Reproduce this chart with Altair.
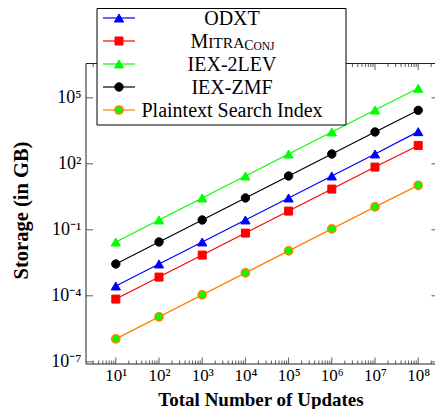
import altair as alt
import pandas as pd

# ---------------- data ----------------
updates = [1e1, 1e2, 1e3, 1e4, 1e5, 1e6, 1e7, 1e8]
odxt = [2.8e-4, 2.8e-3, 2.8e-2, 0.28, 2.8, 28, 280, 2900]
mitra = [7.1e-5, 7.1e-4, 7.1e-3, 7.1e-2, 0.71, 7.1, 71, 680]
iex_2lev = [0.028, 0.28, 2.8, 28, 280, 2800, 28000, 270000]
iex_zmf = [2.8e-3, 2.8e-2, 0.28, 2.8, 28, 280, 2800, 27000]
plaintext = [1.1e-6, 1.1e-5, 1.1e-4, 1.1e-3, 1.1e-2, 0.11, 1.1, 10.5]

series_names = ["ODXT", "MITRA_CONJ", "IEX-2LEV", "IEX-ZMF", "Plaintext Search Index"]
series_values = [odxt, mitra, iex_2lev, iex_zmf, plaintext]

x_major_ticks = updates
y_major_ticks = [1e-7, 1e-4, 1e-1, 1e2, 1e5]

# ---------------- layout / styles ----------------
FONT = "Liberation Serif"
W, H = 349, 300.5
PX_PER_DEC = 43.2
X_LO = 10 ** 0.31
X_HI = 10 ** (0.31 + W / PX_PER_DEC)
x_minor_ticks = [m * 10 ** k for k in range(0, 9) for m in range(2, 10)
                 if X_LO <= m * 10 ** k <= X_HI]

line_colors = ["#0000ff", "#ff0000", "#00ff00", "#000000", "#ff8000"]
fill_colors = ["#0000ff", "#ff0000", "#00ff00", "#000000", "#00ff00"]
shapes = ["triangle-up", "square", "triangle-up", "circle", "circle"]
sizes = [85, 64, 85, 70, 66]
stroke_w = [1, 1, 1, 1, 1.6]

xscale = alt.Scale(type="log", domain=[X_LO, X_HI], nice=False)
yscale = alt.Scale(type="log", domain=[10 ** -7.1, 10 ** 6.56], nice=False)

sup = ("'10' + (round(log(datum.value)/LN10) < 0 ? '\u207b' : '') + "
       "['\u2070','\u00b9','\u00b2','\u00b3','\u2074','\u2075','\u2076','\u2077','\u2078','\u2079']"
       "[abs(round(log(datum.value)/LN10))]")

x_axis = alt.Axis(values=x_major_ticks, labelExpr=sup, ticks=False, domain=False, grid=False,
                  labelFont=FONT, labelFontSize=17, labelColor="black", labelPadding=3,
                  labelFlush=False, labelOverlap=False,
                  titleFont=FONT, titleFontSize=19, titleFontWeight="bold", titleColor="black",
                  titleBaseline="alphabetic", titleY=41)
y_axis = alt.Axis(values=y_major_ticks, labelExpr=sup, ticks=False, domain=False, grid=False,
                  labelFont=FONT, labelFontSize=18, labelColor="black", labelPadding=5,
                  labelFlush=False, labelOverlap=False,
                  titleFont=FONT, titleFontSize=20.5, titleFontWeight="bold", titleColor="black",
                  titleBaseline="alphabetic", titleAngle=270, titleX=-59, titleY=146.5)

XT = "Total Number of Updates"
YT = "Storage (in GB)"


def X():
    return alt.X("x:Q", scale=xscale, axis=x_axis, title=XT)


def Y():
    return alt.Y("y:Q", scale=yscale, axis=y_axis, title=YT)


layers = []
for name, vals, lc, fc, sh, sz, sw in zip(series_names, series_values, line_colors,
                                          fill_colors, shapes, sizes, stroke_w):
    df = pd.DataFrame({"x": updates, "y": vals})
    base = alt.Chart(df)
    layers.append(base.mark_line(color=lc, strokeWidth=1.2).encode(x=X(), y=Y()))
    layers.append(base.mark_point(shape=sh, filled=True, fill=fc, stroke=lc, strokeWidth=sw,
                                  size=sz, opacity=1).encode(x=X(), y=Y()))

# ---- frame (left, top, bottom; the right edge lies outside the picture) ----
one = alt.Chart(pd.DataFrame({"a": [0]}))
frame_col = "#222222"
layers.append(one.mark_rule(color=frame_col, strokeWidth=1).encode(
    x=alt.value(0), y=alt.value(0), y2=alt.value(H)))
layers.append(one.mark_rule(color=frame_col, strokeWidth=1).encode(
    x=alt.value(0), x2=alt.value(W), y=alt.value(0)))
layers.append(one.mark_rule(color=frame_col, strokeWidth=1).encode(
    x=alt.value(0), x2=alt.value(W), y=alt.value(H)))

# ---- axis ticks (inward, mirrored like pgfplots) ----
tick_col = "#333333"
xmaj = alt.Chart(pd.DataFrame({"x": x_major_ticks}))
xmin = alt.Chart(pd.DataFrame({"x": x_minor_ticks}))
ymaj = alt.Chart(pd.DataFrame({"y": y_major_ticks}))
for c, L in ((xmaj, 6.5), (xmin, 3.5)):
    layers.append(c.mark_rule(color=tick_col, strokeWidth=0.8).encode(
        x=X(), y=alt.value(H), y2=alt.value(H - L)))
    layers.append(c.mark_rule(color=tick_col, strokeWidth=0.8).encode(
        x=X(), y=alt.value(0), y2=alt.value(L)))
layers.append(ymaj.mark_rule(color=tick_col, strokeWidth=0.8).encode(
    y=Y(), x=alt.value(0), x2=alt.value(7)))
layers.append(ymaj.mark_rule(color=tick_col, strokeWidth=0.8).encode(
    y=Y(), x=alt.value(W - 3.5), x2=alt.value(W)))

# ---- legend (box drawn over the plot) ----
layers.append(one.mark_rect(fill="white", stroke="black", strokeWidth=1).encode(
    x=alt.value(11), x2=alt.value(260), y=alt.value(-55), y2=alt.value(61.5)))
row_y = [-45.5, -22.5, 0.5, 23.5, 46.5]
for i, (name, lc, fc, sh, sz, sw) in enumerate(zip(series_names, line_colors, fill_colors,
                                                   shapes, sizes, stroke_w)):
    ry = row_y[i]
    layers.append(one.mark_rule(color=lc, strokeWidth=1.2).encode(
        x=alt.value(17), x2=alt.value(49), y=alt.value(ry)))
    layers.append(one.mark_point(shape=sh, filled=True, fill=fc, stroke=lc, strokeWidth=sw,
                                 size=sz, opacity=1).encode(x=alt.value(33), y=alt.value(ry)))
    if name == "MITRA_CONJ":
        pieces = [("M", 20, 104.4, 0), ("ITRA", 15.5, 122.2, 0),
                  ("C", 14, 158.2, 2.5), ("ONJ", 11.5, 167.5, 2.5)]
        for txt, fs, px, dy in pieces:
            layers.append(one.mark_text(text=txt, font=FONT, fontSize=fs, align="left",
                                        baseline="alphabetic", color="black").encode(
                x=alt.value(px), y=alt.value(ry + 6.6 + dy)))
    else:
        layers.append(one.mark_text(text=name, font=FONT, fontSize=20, align="center",
                                    baseline="alphabetic", color="black").encode(
            x=alt.value(146), y=alt.value(ry + 6.6)))

chart = alt.layer(*layers).properties(
    width=W, height=H,
    autosize=alt.AutoSizeParams(type="none"),
    padding={"left": 78, "top": 55.5, "right": 0, "bottom": 45},
    background="white",
).configure_view(stroke=None)

chart.save("out.html", embed_options={"renderer": "svg", "actions": False})
